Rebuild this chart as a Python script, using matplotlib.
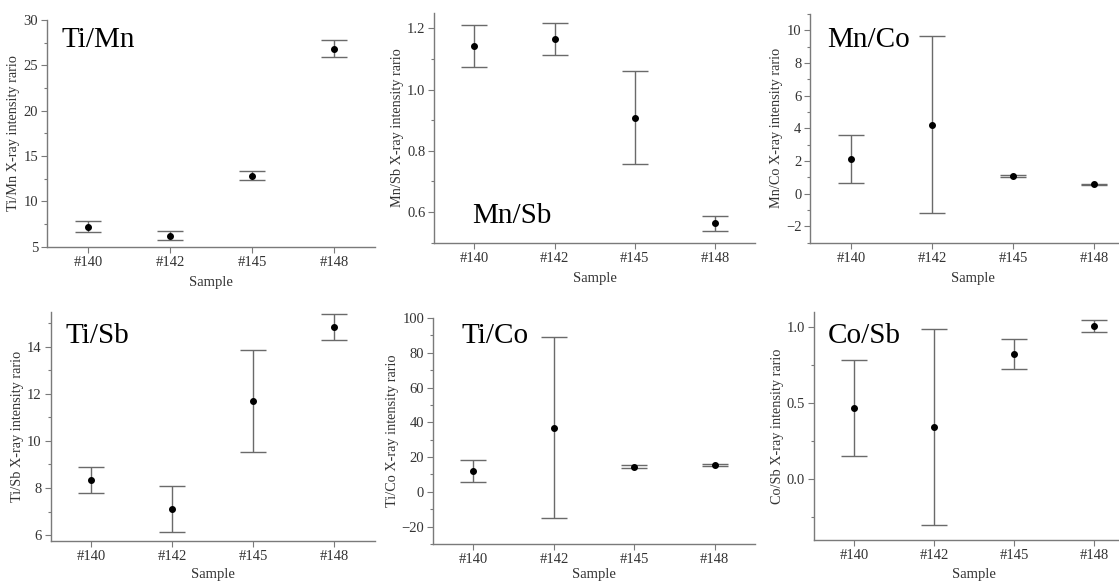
import numpy as np
import matplotlib
matplotlib.use("Agg")
import matplotlib.pyplot as plt
from matplotlib.ticker import AutoMinorLocator, MultipleLocator

plt.rcParams['font.family'] = ['Liberation Serif', 'DejaVu Serif']

samples = ["#140", "#142", "#145", "#148"]

# ratio values, lower and upper ends of the error bars
ti_mn = [7.20, 6.14, 12.83, 26.84]
ti_mn_lo = [6.58, 5.74, 12.35, 25.96]
ti_mn_hi = [7.83, 6.69, 13.35, 27.76]

mn_sb = [1.141, 1.165, 0.908, 0.563]
mn_sb_lo = [1.073, 1.113, 0.757, 0.539]
mn_sb_hi = [1.210, 1.217, 1.060, 0.586]

mn_co = [2.12, 4.22, 1.10, 0.57]
mn_co_lo = [0.63, -1.20, 1.05, 0.53]
mn_co_hi = [3.58, 9.63, 1.15, 0.61]

ti_sb = [8.34, 7.10, 11.71, 14.84]
ti_sb_lo = [7.77, 6.13, 9.53, 14.30]
ti_sb_hi = [8.90, 8.08, 13.87, 15.39]

ti_co = [11.95, 37.0, 14.45, 15.2]
ti_co_lo = [5.78, -15.0, 13.5, 14.8]
ti_co_hi = [18.3, 89.2, 15.2, 15.8]

co_sb = [0.467, 0.345, 0.825, 1.009]
co_sb_lo = [0.153, -0.299, 0.727, 0.965]
co_sb_hi = [0.782, 0.989, 0.924, 1.050]

panels = [
    # name, values, lo, hi, ylim, major step, axes rect, label pos, xlabel pad
    ("Ti/Mn", ti_mn, ti_mn_lo, ti_mn_hi, (5, 30), 5,
     [0.0420, 0.5761, 0.2931, 0.3895], (0.045, 0.882), 5),
    ("Mn/Sb", mn_sb, mn_sb_lo, mn_sb_hi, (0.5, 1.25), 0.2,
     [0.3881, 0.5830, 0.2866, 0.3947], (0.117, 0.087), 5),
    ("Mn/Co", mn_co, mn_co_lo, mn_co_hi, (-3, 11), 2,
     [0.7243, 0.5830, 0.2895, 0.3930], (0.052, 0.857), 5),
    ("Ti/Sb", ti_sb, ti_sb_lo, ti_sb_hi, (5.76, 15.5), 2,
     [0.0453, 0.0710, 0.2898, 0.3935], (0.045, 0.862), 4),
    ("Ti/Co", ti_co, ti_co_lo, ti_co_hi, (-30, 100), 20,
     [0.3872, 0.0653, 0.2875, 0.3883], (0.088, 0.888), 1.5),
    ("Co/Sb", co_sb, co_sb_lo, co_sb_hi, (-0.4, 1.1), 0.5,
     [0.7274, 0.0722, 0.2862, 0.3918], (0.042, 0.863), 4),
]

spine_col = "#7a7a7a"
bar_col = "#6a6a6a"
text_col = "#333333"

fig = plt.figure(figsize=(11.19, 5.82), dpi=100)

for name, vals, lo, hi, ylim, step, rect, lpos, xpad in panels:
    ax = fig.add_axes(rect)
    x = np.arange(len(samples))
    v = np.array(vals)
    yerr = [v - np.array(lo), np.array(hi) - v]
    ax.errorbar(x, v, yerr=yerr, fmt="o", color="black", ms=4,
                ecolor=bar_col, elinewidth=1.0, capsize=9.7, capthick=1.0)
    ax.set_xlim(-0.5, 3.5)
    ax.set_ylim(*ylim)
    ax.set_xticks(x)
    ax.set_xticklabels(samples)
    ax.yaxis.set_major_locator(MultipleLocator(step))
    ax.yaxis.set_minor_locator(AutoMinorLocator(2))
    for s in ["top", "right"]:
        ax.spines[s].set_visible(False)
    for s in ["left", "bottom"]:
        ax.spines[s].set_color(spine_col)
        ax.spines[s].set_linewidth(1.0)
    ax.tick_params(axis="both", which="major", length=4, width=0.8,
                   color=spine_col, labelsize=10.5, labelcolor=text_col,
                   pad=2.5)
    ax.tick_params(axis="y", which="minor", length=2.5, width=0.8,
                   color=spine_col)
    ax.set_xlabel("Sample", fontsize=10.5, color=text_col, labelpad=xpad)
    ax.set_ylabel(name + " X-ray intensity rario", fontsize=10.3,
                  color=text_col, labelpad=2)
    ax.text(lpos[0], lpos[1], name, transform=ax.transAxes, fontsize=21,
            va="baseline", ha="left", color="black")
    ax.patch.set_alpha(0)

fig.savefig("out.png", dpi=100)
